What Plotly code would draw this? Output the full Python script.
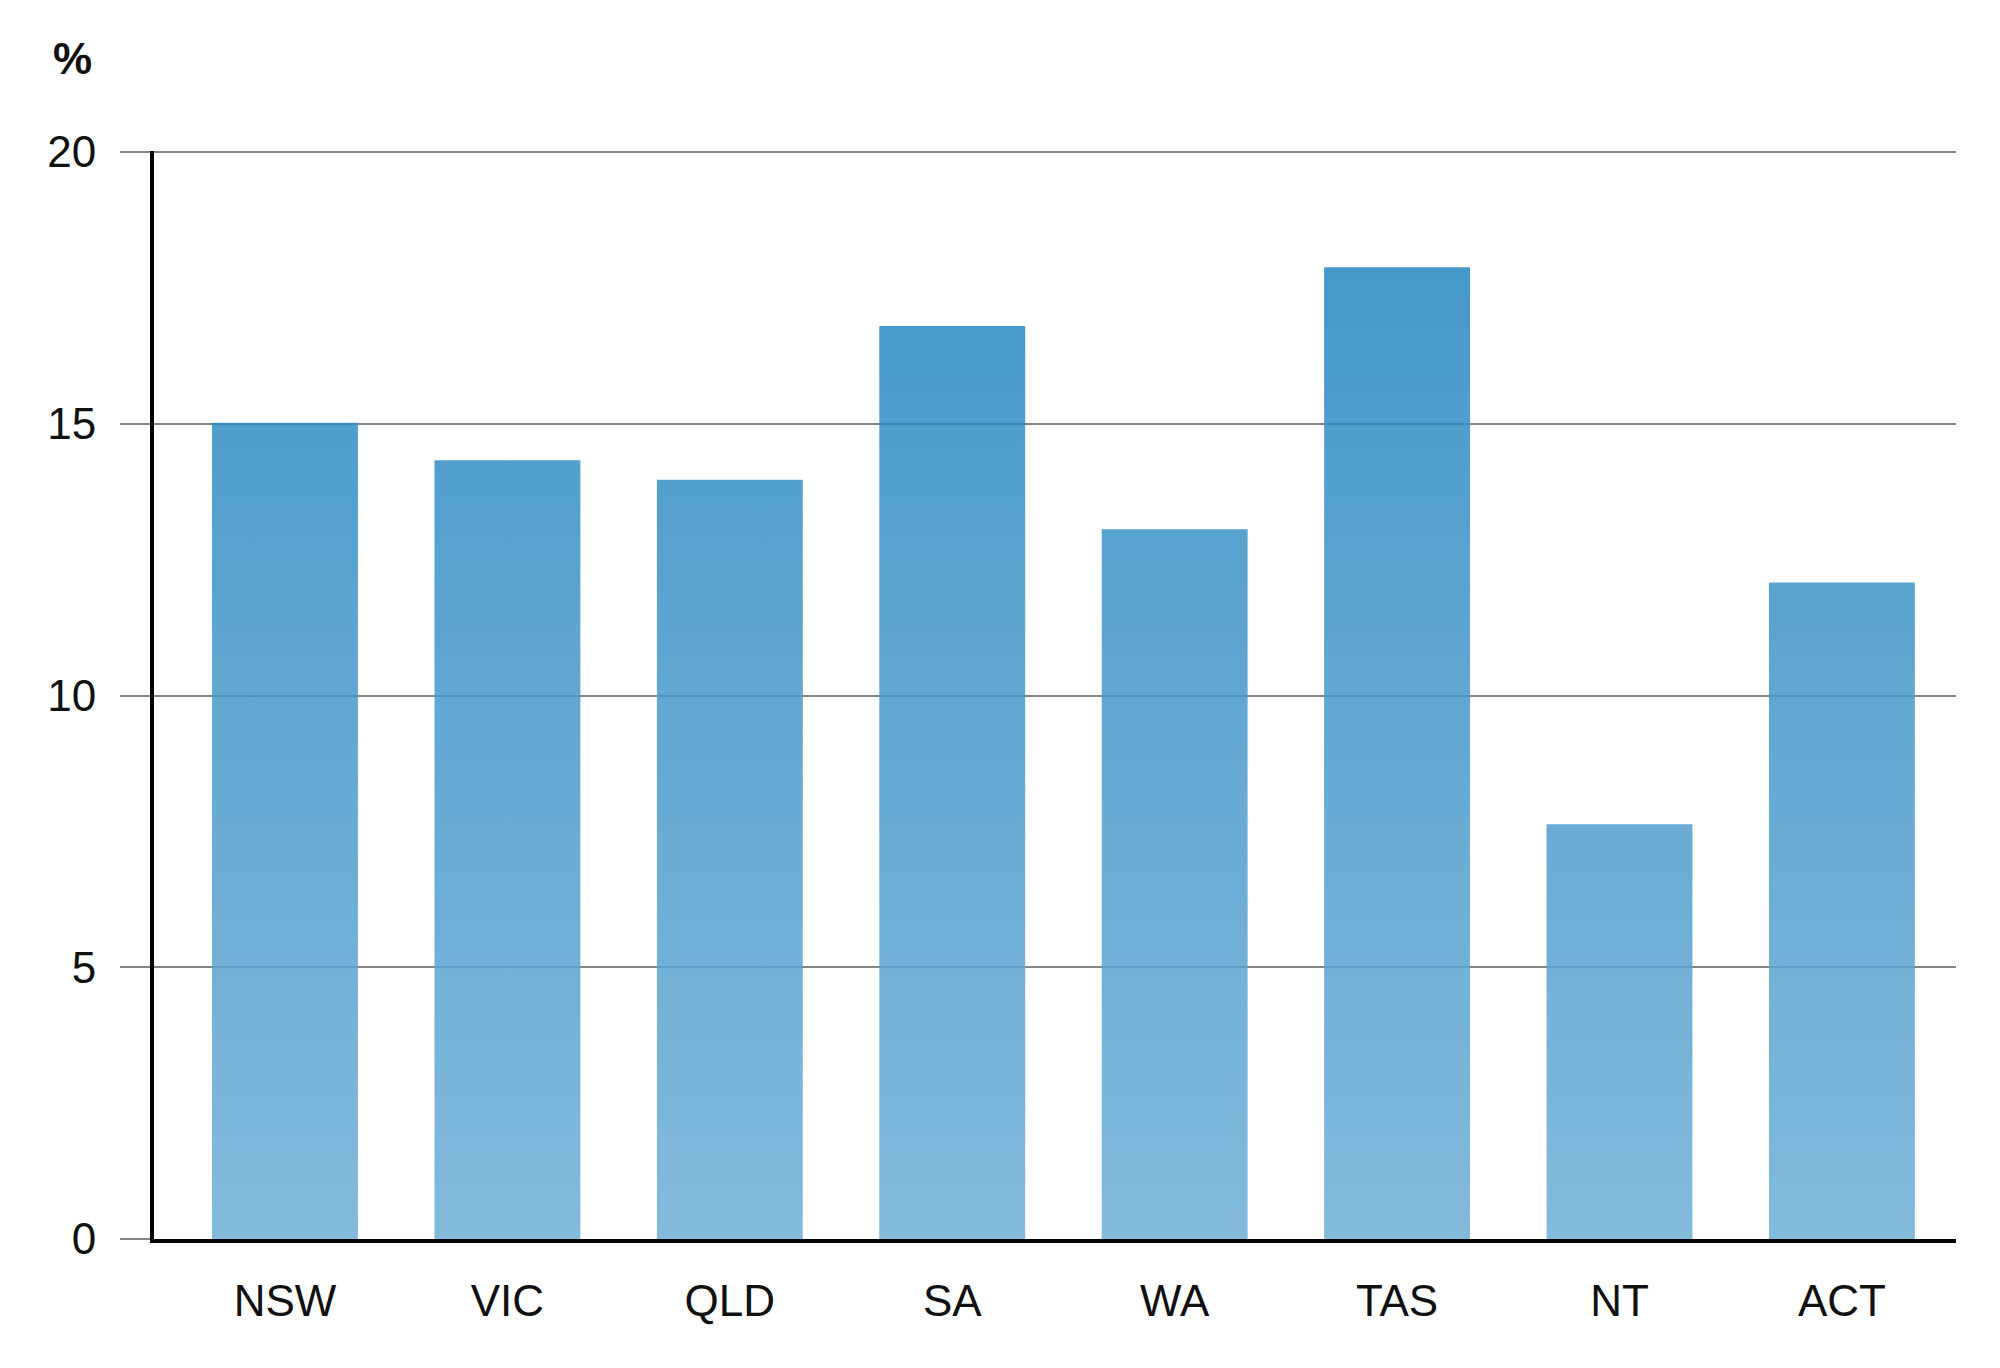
import plotly.graph_objects as go

categories = ["NSW", "VIC", "QLD", "SA", "WA", "TAS", "NT", "ACT"]
values = [15.02, 14.33, 13.97, 16.8, 13.06, 17.88, 7.63, 12.08]
y_ticks = [0, 5, 10, 15, 20]

BAR_W = 0.656
FONT = "Liberation Sans, Arial, Helvetica, sans-serif"

fig = go.Figure()
for i, (cat, v) in enumerate(zip(categories, values)):
    x0, x1 = i - BAR_W / 2, i + BAR_W / 2
    fig.add_trace(go.Scatter(
        x=[x0, x1, x1, x0, x0],
        y=[0, 0, v, v, 0],
        mode="lines",
        line=dict(width=0),
        fill="toself",
        fillgradient=dict(
            type="vertical",
            start=0, stop=20,
            colorscale=[[0, "rgb(110,174,214)"], [1, "rgb(28,129,189)"]],
        ),
        opacity=0.85,
        name=cat,
        hoverinfo="skip",
        showlegend=False,
    ))

fig.update_layout(
    width=1984, height=1352,
    margin=dict(l=146, r=36, t=143, b=121),
    paper_bgcolor="white", plot_bgcolor="white",
    font=dict(family=FONT, size=44, color="#111111"),
    showlegend=False,
)

fig.update_xaxes(
    range=[-0.589, 7.513],
    tickmode="array",
    tickvals=list(range(len(categories))),
    ticktext=categories,
    showgrid=False, zeroline=False,
    showline=True, linecolor="black", linewidth=4,
    ticks="", ticklabelstandoff=20,
    tickfont=dict(family=FONT, size=44, color="#111111"),
)
fig.update_yaxes(
    range=[0, 20.02],
    tickmode="array",
    tickvals=y_ticks,
    ticktext=[str(t) for t in y_ticks],
    showgrid=True, gridcolor="#858585", gridwidth=2,
    zeroline=False,
    showline=True, linecolor="black", linewidth=4,
    ticks="outside", ticklen=30, tickwidth=2, tickcolor="#858585",
    ticklabelstandoff=15,
    tickfont=dict(family=FONT, size=44, color="#111111"),
)

fig.add_annotation(
    text="<b>%</b>", xref="paper", yref="paper",
    x=-0.0455, y=1.085, xanchor="center", yanchor="middle",
    showarrow=False, font=dict(family=FONT, size=44, color="#111111"),
)

fig.write_html("out.html")
